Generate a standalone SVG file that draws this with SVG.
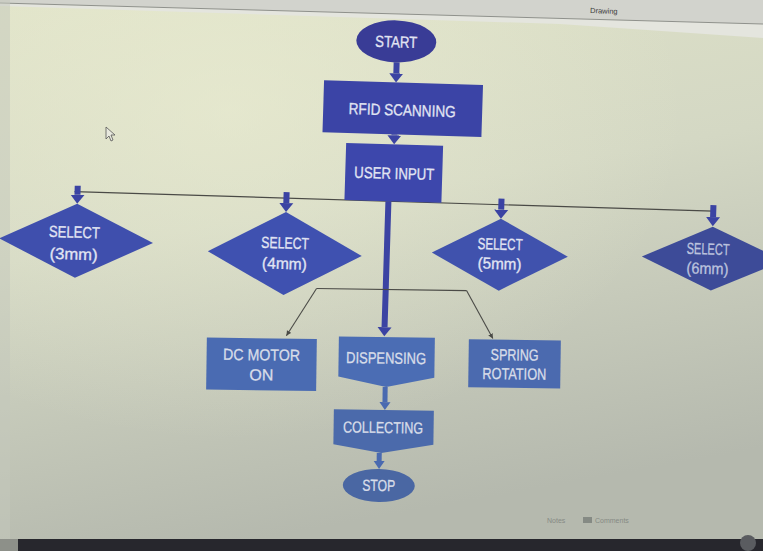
<svg xmlns="http://www.w3.org/2000/svg" width="763" height="551" viewBox="0 0 763 551">
<defs>
  <linearGradient id="bg" x1="0" y1="0" x2="0.25" y2="1">
    <stop offset="0" stop-color="#dfe2c8"/>
    <stop offset="0.45" stop-color="#d4d8c4"/>
    <stop offset="1" stop-color="#b5b9ae"/>
  </linearGradient>
  <radialGradient id="glow" cx="0.3" cy="0.2" r="0.6">
    <stop offset="0" stop-color="#eef0d4" stop-opacity="0.55"/>
    <stop offset="1" stop-color="#eef0d4" stop-opacity="0"/>
  </radialGradient>
  <marker id="ahU" markerUnits="userSpaceOnUse" viewBox="0 0 10 16" markerWidth="10" markerHeight="16" refX="0" refY="8" orient="auto">
    <path d="M0,1 L9,8 L0,15 z" fill="#3b43a3"/>
  </marker>
  <marker id="ahL" markerUnits="userSpaceOnUse" viewBox="0 0 9 12" markerWidth="9" markerHeight="12" refX="0" refY="6" orient="auto">
    <path d="M0,0.5 L8,6 L0,11.5 z" fill="#4a6ab0"/>
  </marker>
  <marker id="ahS" markerUnits="userSpaceOnUse" viewBox="0 0 6 6" markerWidth="6" markerHeight="6" refX="5" refY="3" orient="auto">
    <path d="M0,0.5 L5,3 L0,5.5 z" fill="#4a4a46"/>
  </marker>
  <style>
    .t { font-family: "Liberation Sans", Arial, sans-serif; font-size: 16px; fill: #e2e5f3; stroke: #e2e5f3; stroke-width: 0.3; text-anchor: middle; }
    .tl { font-family: "Liberation Sans", Arial, sans-serif; font-size: 16px; fill: #d8dde9; stroke: #d8dde9; stroke-width: 0.3; text-anchor: middle; }
    .up { fill: #3b44a6; }
    .dia { fill: #3f4fad; }
    .low { fill: #4a6bb2; }
    .thickU { stroke: #3b43a3; stroke-width: 6; fill: none; marker-end: url(#ahU); }
    .thickL { stroke: #4a6ab0; stroke-width: 5; fill: none; marker-end: url(#ahL); }
    .thin { stroke: #4a4a46; stroke-width: 1.1; fill: none; }
    .ui { font-family: "Liberation Sans", Arial, sans-serif; font-size: 7px; fill: #858a84; }
  </style>
</defs>

<!-- screen background -->
<rect x="0" y="0" width="763" height="551" fill="url(#bg)"/>
<rect x="0" y="0" width="763" height="551" fill="url(#glow)"/>
<polygon points="0,0 763,0 763,24 0,3" fill="#d2d3cd"/>
<polygon points="0,3 763,24 763,38 560,24 0,6" fill="#e4e5de"/>
<line x1="0" y1="3" x2="763" y2="24" stroke="#8f918c" stroke-width="1"/>
<text x="590" y="13" transform="rotate(2 590 13)" style="font-family:'Liberation Sans',Arial,sans-serif;font-size:7.5px;fill:#3c3c3c">Drawing</text>
<rect x="0" y="0" width="10" height="551" fill="#c4c7bb" opacity="0.5"/>
<text x="547" y="523" class="ui">Notes</text>
<text x="595" y="523" class="ui">Comments</text>
<rect x="583" y="517" width="9" height="6" fill="#858a84"/>
<rect x="18" y="539" width="745" height="12" fill="#27272d"/>
<rect x="0" y="539" width="18" height="12" fill="#8d9089"/>
<circle cx="748" cy="543" r="8" fill="#5a5c60"/>
<!-- mouse cursor -->
<path d="M106,127 L106,139 L109,136 L111,141 L113,140 L111,135 L115,135 z" fill="#e8e9de" stroke="#555" stroke-width="0.8"/>

<!-- upper part (photo tilt) -->
<g transform="rotate(1.75 380 280)">
  <g id="connectors-upper">
    <line x1="72" y1="201" x2="711" y2="201" class="thin"/>
    <line x1="390" y1="62" x2="390" y2="73" class="thickU"/>
    <line x1="390" y1="134" x2="390" y2="135" class="thickU"/>
    <line x1="75" y1="195" x2="75" y2="204" class="thickU"/>
    <line x1="284" y1="195" x2="284" y2="206" class="thickU"/>
    <line x1="499" y1="195" x2="499" y2="206" class="thickU"/>
    <line x1="711" y1="195" x2="711" y2="207" class="thickU"/>
    <line x1="386" y1="201" x2="386" y2="327" class="thickU"/>
  </g>
  <g id="start">
    <ellipse cx="389" cy="41" rx="40" ry="21" fill="#393c96"/>
    <text x="389" y="47" class="t" textLength="42" lengthAdjust="spacingAndGlyphs">START</text>
  </g>
  <g id="rfid">
    <rect x="318" y="82" width="159" height="52" class="up"/>
    <text x="397" y="115" class="t" textLength="107" lengthAdjust="spacingAndGlyphs">RFID SCANNING</text>
  </g>
  <g id="user-input">
    <rect x="342" y="144" width="97" height="57" fill="#3d47ac"/>
    <text x="391" y="178.5" class="t" textLength="80" lengthAdjust="spacingAndGlyphs">USER INPUT</text>
  </g>
  <g id="select-3mm">
    <polygon points="75,213 152,250 75,287 -2,250" class="dia"/>
    <text x="73" y="247" class="t" textLength="51" lengthAdjust="spacingAndGlyphs">SELECT</text>
    <text x="73" y="269" class="t" textLength="48" lengthAdjust="spacingAndGlyphs">(3mm)</text>
  </g>
  <g id="select-4mm">
    <polygon points="284,215 361,256.5 284,298 207,256.5" fill="#3f51b0"/>
    <text x="284" y="251.5" class="t" textLength="48" lengthAdjust="spacingAndGlyphs">SELECT</text>
    <text x="284" y="272" class="t" textLength="45" lengthAdjust="spacingAndGlyphs">(4mm)</text>
  </g>
  <g id="select-5mm">
    <polygon points="499,215 567,251 499,287 431,251" fill="#4052ad"/>
    <text x="499" y="246" class="t" textLength="45" lengthAdjust="spacingAndGlyphs">SELECT</text>
    <text x="499" y="265.5" class="t" textLength="44" lengthAdjust="spacingAndGlyphs">(5mm)</text>
  </g>
  <g id="select-6mm">
    <polygon points="711,216.5 783,248.5 711,280.5 641,248.5" fill="#3d4b98"/>
    <text x="707" y="244.5" class="t" style="fill:#bcc3de;stroke:#bcc3de" textLength="43" lengthAdjust="spacingAndGlyphs">SELECT</text>
    <text x="707" y="264" class="t" style="fill:#bcc3de;stroke:#bcc3de" textLength="42" lengthAdjust="spacingAndGlyphs">(6mm)</text>
  </g>
</g>

<!-- lower part (less tilt) -->
<g transform="rotate(0.8 380 400)">
  <g id="connectors-lower">
    <path d="M315,289.4 L465,289.4" class="thin"/>
    <path d="M315,289.4 L285.5,337" class="thin" marker-end="url(#ahS)"/>
    <path d="M465,289.4 L492,337" class="thin" marker-end="url(#ahS)"/>
    <line x1="385" y1="387" x2="385" y2="402" class="thickL"/>
    <line x1="380" y1="453" x2="380" y2="461" class="thickL"/>
  </g>
  <g id="dc-motor">
    <rect x="206" y="340" width="110" height="52" class="low"/>
    <text x="261" y="362" class="tl" textLength="77" lengthAdjust="spacingAndGlyphs">DC MOTOR</text>
    <text x="261" y="382" class="tl">ON</text>
  </g>
  <g id="dispensing">
    <polygon points="338,337 434,337 434,377 386,387 338,377" fill="#4b6db4"/>
    <text x="385.5" y="363.5" class="tl" textLength="80" lengthAdjust="spacingAndGlyphs">DISPENSING</text>
  </g>
  <g id="spring-rotation">
    <rect x="468" y="338" width="92" height="48" fill="#4b6aaf"/>
    <text x="514" y="358.5" class="tl" textLength="48" lengthAdjust="spacingAndGlyphs">SPRING</text>
    <text x="514" y="377.5" class="tl" textLength="64" lengthAdjust="spacingAndGlyphs">ROTATION</text>
  </g>
  <g id="collecting">
    <polygon points="334,410 434,410 434,444 382,453 334,445" fill="#4b6aab"/>
    <text x="383.5" y="433" class="tl" textLength="80" lengthAdjust="spacingAndGlyphs">COLLECTING</text>
  </g>
  <g id="stop">
    <ellipse cx="380" cy="485.5" rx="36" ry="16.5" fill="#4a67a3"/>
    <text x="380" y="491" class="tl" textLength="33" lengthAdjust="spacingAndGlyphs">STOP</text>
  </g>
</g>
</svg>
